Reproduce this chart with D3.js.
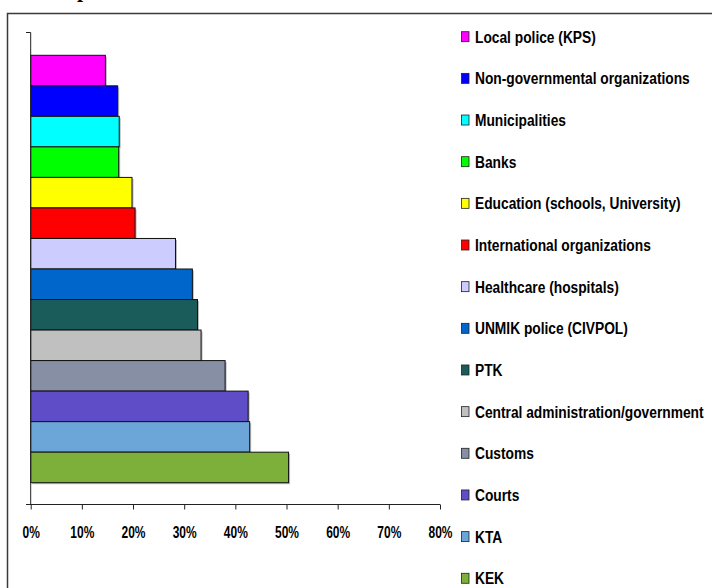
<!DOCTYPE html>
<html><head><meta charset="utf-8">
<script src="https://cdn.jsdelivr.net/npm/d3@7/dist/d3.min.js"></script>
<style>
html,body{margin:0;padding:0;background:#fff;}
svg{display:block;}
text{font-family:"Liberation Sans Narrow","Arial Narrow","Liberation Sans",Arial,sans-serif;font-weight:bold;}
</style></head>
<body>
<script>
const categories = ["Local police (KPS)","Non-governmental organizations","Municipalities","Banks","Education (schools, University)","International organizations","Healthcare (hospitals)","UNMIK police (CIVPOL)","PTK","Central administration/government","Customs","Courts","KTA","KEK"];
const values = [0.146,0.170,0.173,0.172,0.198,0.204,0.283,0.316,0.326,0.333,0.380,0.425,0.428,0.504];
const colors = ["#FF00FF","#0000FF","#00FFFF","#00FF00","#FFFF00","#FF0000","#CCCCFF","#0066CC","#1A5C5A","#C0C0C0","#878FA5","#5E4DC6","#6CA6D8","#7CB03A"];
const xTicks = [0,0.1,0.2,0.3,0.4,0.5,0.6,0.7,0.8];

const W=712,H=588;
const svg=d3.select("body").append("svg").attr("width",W).attr("height",H);

// partially cropped title glyph
svg.append("text").attr("x",77).attr("y",-3)
  .style("font-family","'Liberation Serif',serif").attr("font-size",22).text("p");

// frame
svg.append("path").attr("d",`M7.5,${H+2}V13.5H${W+2}`).attr("fill","none").attr("stroke","#3a3a3a").attr("stroke-width",1.5);

const x=d3.scaleLinear().domain([0,0.8]).range([30.7,440]);
const y=d3.scaleBand().domain(categories).range([55.3,482.7]).padding(0);

// bars shadow
svg.append("g").selectAll("rect").data(categories).join("rect")
  .attr("x",x(0)+1.5).attr("y",d=>y(d)+1.5)
  .attr("width",(d,i)=>x(values[i])-x(0)).attr("height",y.bandwidth())
  .attr("fill","#bbb");
svg.append("g").selectAll("rect").data(categories).join("rect")
  .attr("x",x(0)).attr("y",d=>y(d))
  .attr("width",(d,i)=>x(values[i])-x(0)).attr("height",y.bandwidth())
  .attr("fill",(d,i)=>colors[i]).attr("stroke","#111").attr("stroke-width",1);

// y axis
svg.append("path").attr("d",`M26,32.5H30.7V504.5`).attr("fill","none").attr("stroke","#222").attr("stroke-width",1);
// x axis
const xa=svg.append("g").attr("transform","translate(0,504.5)")
  .call(d3.axisBottom(x).tickValues(xTicks).tickFormat(d3.format(".0%")).tickSize(5).tickSizeOuter(0));
xa.select(".domain").remove();
xa.append("path").attr("d",`M26,0H${x(0.8)}`).attr("stroke","#222").attr("fill","none");
xa.selectAll(".tick line").attr("stroke","#222");
const tt=xa.selectAll(".tick text").attr("y",0).attr("dy",0).attr("fill","#000")
  .attr("font-size",16.5).style("font-family","'Liberation Sans Narrow','Arial Narrow','Liberation Sans',sans-serif").style("font-weight","bold");
// condense tick labels (narrow typeface look)
let tw=0; tt.each(function(d){ if(d===0.1) tw=this.getComputedTextLength(); });
const tsx = tw>0 ? 24/tw : 1;
tt.attr("transform",`translate(0,33.5) scale(${tsx},1)`);

// legend
const lg=svg.append("g");
const ly0=36.7, ldy=41.66;
const texts=[];
categories.forEach((c,i)=>{
  const cy=ly0+i*ldy;
  lg.append("rect").attr("x",461.5).attr("y",cy-5).attr("width",7.5).attr("height",10)
    .attr("fill",colors[i]).attr("stroke","#222").attr("stroke-width",0.8);
  texts.push(lg.append("text").attr("x",0).attr("y",0).attr("font-size",17).attr("fill","#000").text(c).datum(cy));
});
let lw=0; texts.forEach(t=>{ if(t.text()==="Non-governmental organizations") lw=t.node().getComputedTextLength(); });
const lsx = lw>0 ? 215/lw : 1;
texts.forEach(t=>t.attr("transform",`translate(475,${t.datum()+6}) scale(${lsx},1)`));
</script>
</body></html>
